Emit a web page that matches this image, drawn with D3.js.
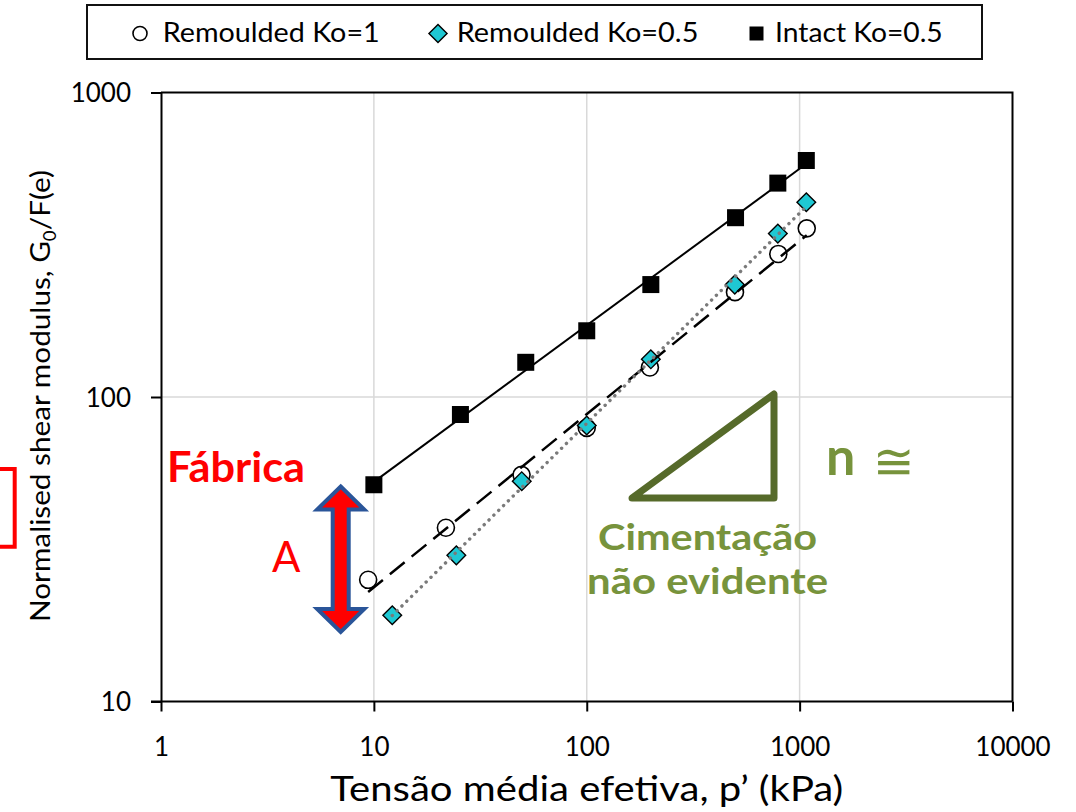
<!DOCTYPE html>
<html>
<head>
<meta charset="utf-8">
<script src="https://cdn.jsdelivr.net/npm/d3@7"></script>
<style>
  html, body { margin: 0; padding: 0; background: #fff; }
  svg { display: block; font-family: Lato, "Open Sans", "DejaVu Sans", sans-serif; }
</style>
</head>
<body>
<svg id="chart" width="1076" height="812"></svg>
<script>
// values (p' in kPa, G0/F(e))
var pIntact = [10, 25.5, 51.7, 100, 200, 500, 790, 1075];
var gIntact = [51.5, 87.6, 130, 165, 234, 388, 504, 598];
var pRem1 = [9.4, 21.8, 49.4, 100, 198, 497, 794, 1080];
var gRem1 = [25.1, 37.2, 55.5, 79.2, 125, 221, 295, 358];
var pRem05 = [12.2, 24.4, 49.5, 100, 200, 496, 790, 1075];
var gRem05 = [19.2, 30.2, 52.9, 80.6, 133, 234, 344, 436];

var xTicks = [1, 10, 100, 1000, 10000];
var yTicks = [10, 100, 1000];
var legendLabels = ["Remoulded Ko=1", "Remoulded Ko=0.5", "Intact Ko=0.5"];

var olive = "#77933C";
var oliveDark = "#566A2A";
var cyan = "#1FC8D3";

var svg = d3.select("#chart");

var x = d3.scaleLog().domain([1, 10000]).range([161, 1012.5]);
var y = d3.scaleLog().domain([10, 1000]).range([701.5, 92.5]);

function zip(xs, ys) {
	return xs.map(function (d, i) { return { p: d, g: ys[i] }; });
}
var intact = zip(pIntact, gIntact);
var rem1 = zip(pRem1, gRem1);
var rem05 = zip(pRem05, gRem05);

// power trend line (least squares in log-log space)
function powerFit(data) {
	var lx = data.map(d => Math.log10(d.p));
	var ly = data.map(d => Math.log10(d.g));
	var mx = d3.mean(lx), my = d3.mean(ly);
	var sxy = d3.sum(lx, (v, i) => (v - mx) * (ly[i] - my));
	var sxx = d3.sum(lx, v => (v - mx) * (v - mx));
	var b = sxy / sxx;
	var a = my - b * mx;
	var ends = d3.extent(data, d => d.p);
	return ends.map(function (p) { return { p: p, g: Math.pow(10, a + b * Math.log10(p)) }; });
}

// gridlines
var grid = svg.append("g");
grid.selectAll(".gx")
	.data([10, 100, 1000])
	.join("line")
	.attr("x1", d => x(d)).attr("x2", d => x(d))
	.attr("y1", y(10)).attr("y2", y(1000))
	.attr("stroke", "#d9d9d9").attr("stroke-width", 1.5);
grid.selectAll(".gy")
	.data([100])
	.join("line")
	.attr("x1", x(1)).attr("x2", x(10000))
	.attr("y1", d => y(d)).attr("y2", d => y(d))
	.attr("stroke", "#d9d9d9").attr("stroke-width", 1.5);

// plot frame top + right
svg.append("path")
	.attr("d", "M" + x(1) + "," + y(1000) + "H" + x(10000) + "V" + y(10))
	.attr("fill", "none").attr("stroke", "#000").attr("stroke-width", 2);

// axes
var xAxis = svg.append("g")
	.attr("transform", "translate(0," + y(10) + ")")
	.call(d3.axisBottom(x).tickValues(xTicks).tickFormat(d3.format("d")).tickSize(10).tickSizeOuter(0));
var yAxis = svg.append("g")
	.attr("transform", "translate(" + x(1) + ",0)")
	.call(d3.axisLeft(y).tickValues(yTicks).tickFormat(d3.format("d")).tickSize(10).tickSizeOuter(0));

[xAxis, yAxis].forEach(function (ax) {
	ax.selectAll("path, line").attr("stroke", "#000").attr("stroke-width", 2);
	ax.selectAll("text").attr("fill", "#000").style("font-family", "Lato, sans-serif").style("font-size", "26px");
});
xAxis.selectAll("text").attr("y", 0).attr("dy", 0).attr("transform", "translate(0,54)");
yAxis.selectAll("text").attr("x", -30).attr("dy", "0.36em");
xAxis.select(".domain").attr("d", "M" + (x(1) - 10) + ",0H" + x(10000));

// axis titles
svg.append("text")
	.attr("x", x(100)).attr("y", 801)
	.attr("text-anchor", "middle")
	.attr("textLength", 513).attr("lengthAdjust", "spacingAndGlyphs")
	.style("font-size", "34px")
	.text("Tensão média efetiva, p’ (kPa)");

var yTitle = svg.append("text")
	.attr("transform", "translate(50,396) rotate(-90)")
	.attr("text-anchor", "middle")
	.attr("textLength", 452).attr("lengthAdjust", "spacingAndGlyphs")
	.style("font-size", "27px");
yTitle.append("tspan").text("Normalised shear modulus, G");
yTitle.append("tspan").attr("dy", 6).style("font-size", "17px").text("0");
yTitle.append("tspan").attr("dy", -6).text("/F(e)");

// markers
svg.append("g").selectAll("circle")
	.data(rem1)
	.join("circle")
	.attr("cx", d => x(d.p)).attr("cy", d => y(d.g))
	.attr("r", 8.5)
	.attr("fill", "#fff").attr("stroke", "#000").attr("stroke-width", 1.6);

svg.append("g").selectAll("rect")
	.data(rem05)
	.join("rect")
	.attr("x", -6.6).attr("y", -6.6).attr("width", 13.2).attr("height", 13.2)
	.attr("transform", d => "translate(" + x(d.p) + "," + y(d.g) + ") rotate(45)")
	.attr("fill", cyan).attr("stroke", "#000").attr("stroke-width", 1.4);

svg.append("g").selectAll("rect")
	.data(intact)
	.join("rect")
	.attr("x", d => x(d.p) - 8.5).attr("y", d => y(d.g) - 8.5)
	.attr("width", 17).attr("height", 17)
	.attr("fill", "#000");

// trend lines
var line = d3.line().x(d => x(d.p)).y(d => y(d.g));
svg.append("path").datum(powerFit(intact)).attr("d", line)
	.attr("fill", "none").attr("stroke", "#000").attr("stroke-width", 2);
svg.append("path").datum(powerFit(rem1)).attr("d", line)
	.attr("fill", "none").attr("stroke", "#000").attr("stroke-width", 2.5)
	.attr("stroke-dasharray", "19,9");
svg.append("path").datum(powerFit(rem05)).attr("d", line)
	.attr("fill", "none").attr("stroke", "#7a7a7a").attr("stroke-width", 3.4)
	.attr("stroke-linecap", "round").attr("stroke-dasharray", "0.1,6.7");

// legend
var legend = svg.append("g");
legend.append("rect")
	.attr("x", 87).attr("y", 5).attr("width", 895).attr("height", 54)
	.attr("fill", "#fff").attr("stroke", "#111").attr("stroke-width", 2);
legend.append("circle").attr("cx", 140).attr("cy", 33.5).attr("r", 7)
	.attr("fill", "#fff").attr("stroke", "#000").attr("stroke-width", 1.6);
legend.append("rect").attr("x", -6.4).attr("y", -6.4).attr("width", 12.8).attr("height", 12.8)
	.attr("transform", "translate(438,33.5) rotate(45)")
	.attr("fill", cyan).attr("stroke", "#000").attr("stroke-width", 1.4);
legend.append("rect").attr("x", 749.5).attr("y", 26.5).attr("width", 14).attr("height", 14)
	.attr("fill", "#000");
var legendX = [162.7, 456.7, 775];
var legendW = [217, 241.7, 167.7];
legend.selectAll("text")
	.data(legendLabels)
	.join("text")
	.attr("x", (d, i) => legendX[i]).attr("y", 42)
	.attr("textLength", (d, i) => legendW[i]).attr("lengthAdjust", "spacingAndGlyphs")
	.style("font-size", "27px")
	.text(d => d);

// annotations
svg.append("path")
	.attr("d", "M0,469H14.7V546.7H0")
	.attr("fill", "none").attr("stroke", "#ff0000").attr("stroke-width", 4);

svg.append("text")
	.attr("x", 167).attr("y", 481.7)
	.attr("textLength", 138).attr("lengthAdjust", "spacingAndGlyphs")
	.attr("fill", "#ff0000").style("font-size", "42px").style("font-weight", "bold")
	.text("Fábrica");

svg.append("text")
	.attr("x", 272).attr("y", 571.7)
	.attr("fill", "#ff0000").style("font-size", "42px")
	.text("A");

// double-headed arrow between Intact and remoulded curves
var ax = 340.7, aTop = 486.5, aBot = 632;
var hw = 23.5, hl = 23, sw = 8;
var arrowPts = [
	[ax, aTop], [ax + hw, aTop + hl], [ax + sw, aTop + hl],
	[ax + sw, aBot - hl], [ax + hw, aBot - hl], [ax, aBot],
	[ax - hw, aBot - hl], [ax - sw, aBot - hl], [ax - sw, aTop + hl],
	[ax - hw, aTop + hl]
];
svg.append("polygon")
	.attr("points", arrowPts.map(p => p.join(",")).join(" "))
	.attr("fill", "#ff0000").attr("stroke", "#2a5599").attr("stroke-width", 4)
	.attr("stroke-linejoin", "miter");

// slope triangle
svg.append("polygon")
	.attr("points", "774,394 774,498 632,498")
	.attr("fill", "none").attr("stroke", oliveDark).attr("stroke-width", 7)
	.attr("stroke-linejoin", "round");

svg.append("text")
	.attr("x", 826).attr("y", 475)
	.attr("fill", olive).style("font-size", "52px").style("font-weight", "bold")
	.text("n");
svg.append("text")
	.attr("x", 873).attr("y", 479)
	.attr("fill", olive).style("font-size", "50px").style("font-family", "'DejaVu Sans', sans-serif")
	.text("≅");

svg.append("text")
	.attr("x", 598).attr("y", 549.5)
	.attr("textLength", 219).attr("lengthAdjust", "spacingAndGlyphs")
	.attr("fill", olive).style("font-size", "37px").style("font-weight", "bold")
	.text("Cimentação");
svg.append("text")
	.attr("x", 587).attr("y", 594.2)
	.attr("textLength", 241).attr("lengthAdjust", "spacingAndGlyphs")
	.attr("fill", olive).style("font-size", "37px").style("font-weight", "bold")
	.text("não evidente");
</script>
</body>
</html>
